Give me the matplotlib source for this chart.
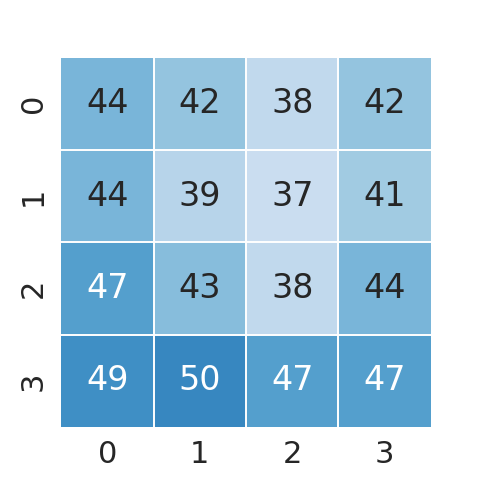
import numpy as np
import matplotlib
matplotlib.use('Agg')
import matplotlib.pyplot as plt
import seaborn as sns

rows = ['0', '1', '2', '3']
cols = ['0', '1', '2', '3']
values = np.array([
    [44, 42, 38, 42],
    [44, 39, 37, 41],
    [47, 43, 38, 44],
    [49, 50, 47, 47],
])

sns.set(font_scale=2)
fig, ax = plt.subplots(figsize=(4.8, 4.8), dpi=100)
sns.heatmap(values, annot=True, fmt='d', cmap='Blues', vmin=30, vmax=60,
            linewidths=0, cbar=False, square=True,
            xticklabels=cols, yticklabels=rows, ax=ax)
# white separators between cells only
for k in range(1, len(cols)):
    ax.axvline(k, color='white', lw=1.4)
for k in range(1, len(rows)):
    ax.axhline(k, color='white', lw=1.4)
fig.savefig('out.png', dpi=100)
